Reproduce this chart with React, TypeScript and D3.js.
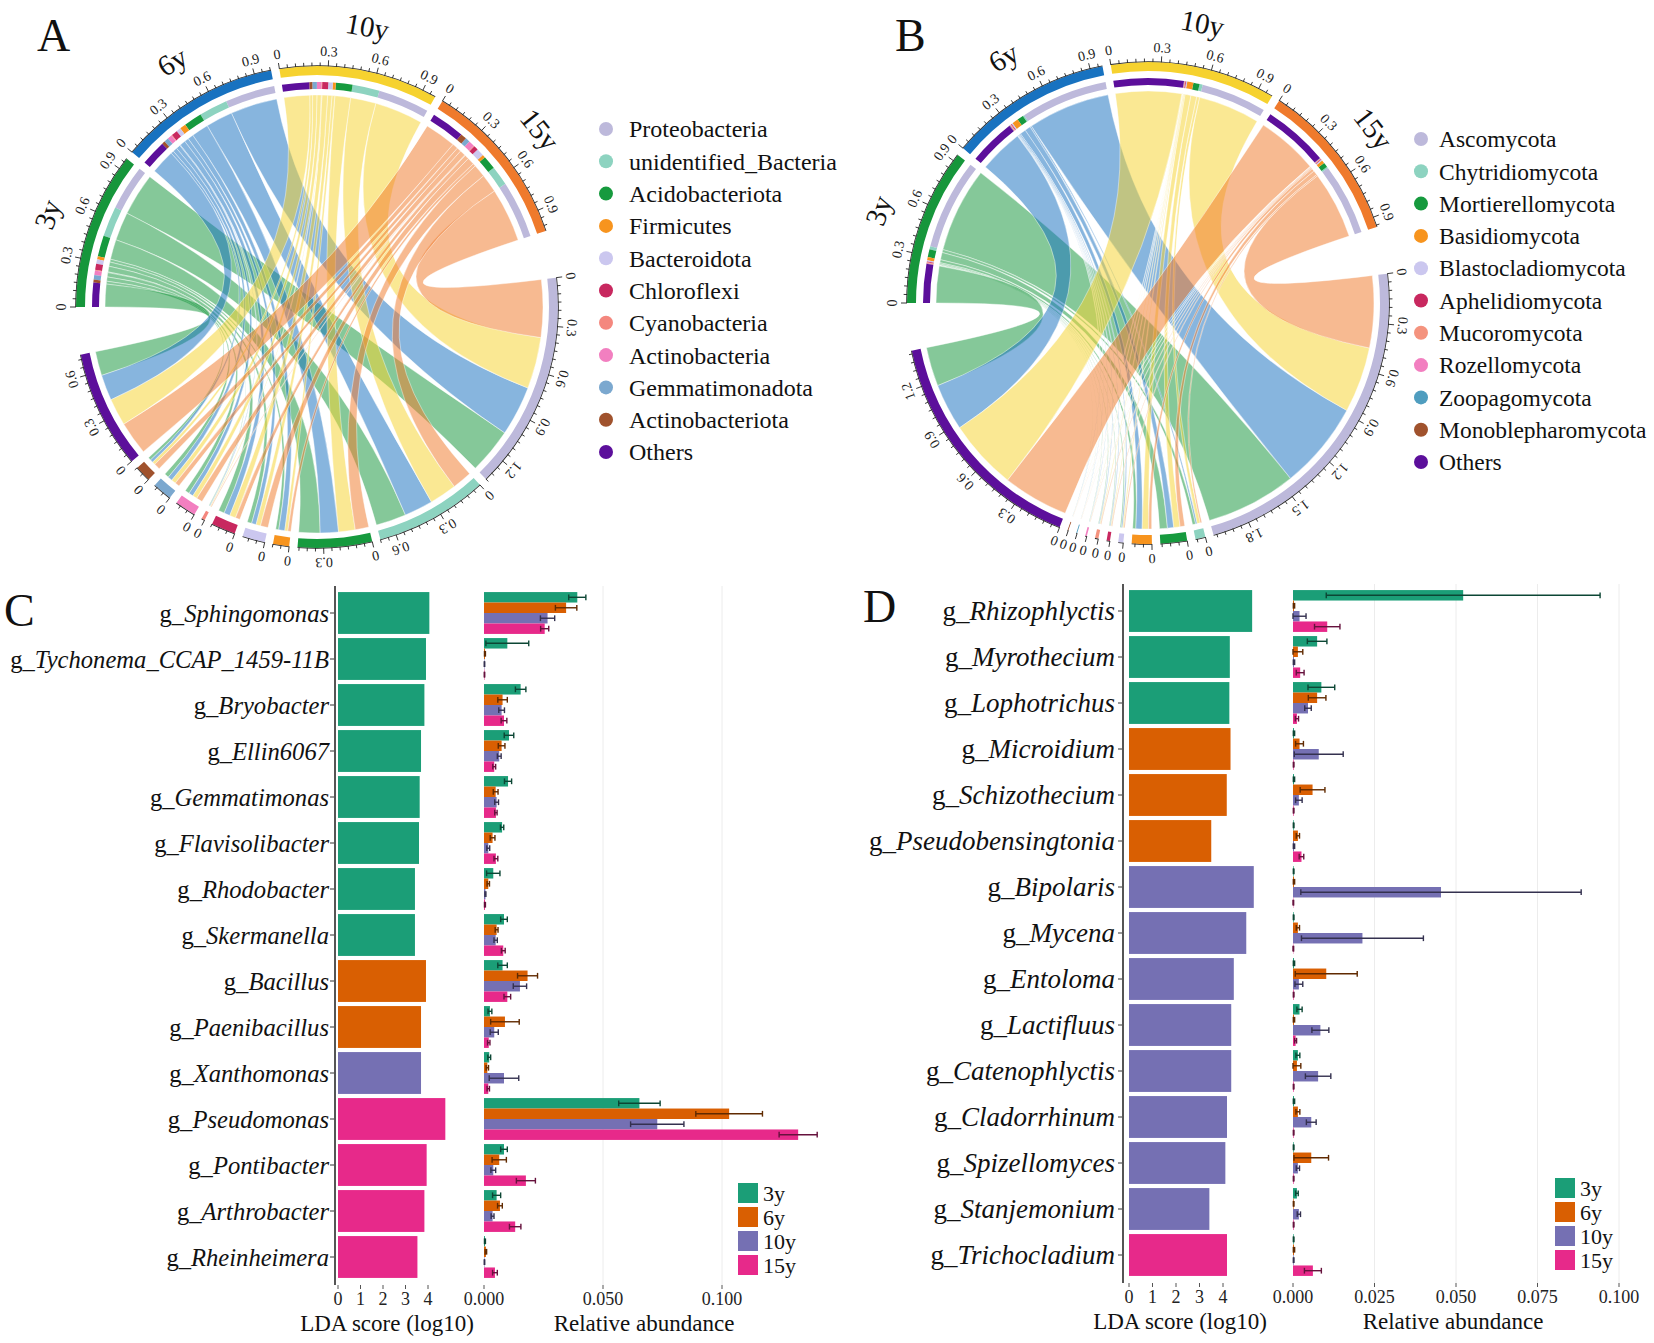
import React from 'react';
import * as d3 from 'd3';

const W = 1654;
const H = 1343;
const FONT = "'Liberation Serif', 'Times New Roman', 'DejaVu Serif', serif";

// ---- chord diagrams (A, B) ----
const samples = ['3y', '6y', '10y', '15y'];
const sampleColors = ['#16963b', '#1872c0', '#f6d22f', '#ef7a2c'];

const bacPhyla = ['Proteobacteria', 'unidentified_Bacteria', 'Acidobacteriota', 'Firmicutes', 'Bacteroidota', 'Chloroflexi', 'Cyanobacteria', 'Actinobacteria', 'Gemmatimonadota', 'Actinobacteriota', 'Others'];
const bacColors = ['#bdb9db', '#8dd3c0', '#169a3e', '#f7941e', '#cbc7ef', '#c8285f', '#f4877e', '#f27fc0', '#7ba8cf', '#a0522d', '#5c0f9b'];
// rows = samples (3y, 6y, 10y, 15y), columns = phyla
const bacLinks = [
  [0.30, 0.20, 0.14, 0.02, 0.03, 0.04, 0.005, 0.03, 0.03, 0.02, 0.16],
  [0.33, 0.19, 0.12, 0.04, 0.03, 0.04, 0.005, 0.03, 0.03, 0.02, 0.17],
  [0.34, 0.18, 0.11, 0.02, 0.03, 0.04, 0.005, 0.03, 0.03, 0.02, 0.18],
  [0.38, 0.13, 0.09, 0.02, 0.05, 0.03, 0.005, 0.04, 0.03, 0.04, 0.22],
];

const fungiPhyla = ['Ascomycota', 'Chytridiomycota', 'Mortierellomycota', 'Basidiomycota', 'Blastocladiomycota', 'Aphelidiomycota', 'Mucoromycota', 'Rozellomycota', 'Zoopagomycota', 'Monoblepharomycota', 'Others'];
const fungiColors = ['#bdb9db', '#8dd3c0', '#169a3e', '#f7941e', '#cbc7ef', '#c8285f', '#f4937e', '#f27fc0', '#4f9dbf', '#a0522d', '#5c0f9b'];
const fungiLinks = [
  [0.58, 0.02, 0.05, 0.02, 0.008, 0.005, 0.005, 0.003, 0.001, 0.001, 0.25],
  [0.56, 0.01, 0.04, 0.04, 0.008, 0.005, 0.005, 0.003, 0.002, 0.002, 0.30],
  [0.42, 0.02, 0.04, 0.04, 0.007, 0.005, 0.005, 0.002, 0.001, 0.001, 0.45],
  [0.46, 0.01, 0.03, 0.02, 0.007, 0.005, 0.005, 0.002, 0.001, 0.001, 0.42],
];

// ---- LEfSe panels (C, D) ----
const groupColors = ['#1b9e77', '#d95f02', '#7570b3', '#e7298a'];

const bacGenera = ['Sphingomonas', 'Tychonema_CCAP_1459-11B', 'Bryobacter', 'Ellin6067', 'Gemmatimonas', 'Flavisolibacter', 'Rhodobacter', 'Skermanella', 'Bacillus', 'Paenibacillus', 'Xanthomonas', 'Pseudomonas', 'Pontibacter', 'Arthrobacter', 'Rheinheimera'];
const bacLDA = [4.06, 3.91, 3.84, 3.69, 3.63, 3.6, 3.42, 3.42, 3.91, 3.69, 3.69, 4.77, 3.94, 3.84, 3.53];
const bacGroup = [0, 0, 0, 0, 0, 0, 0, 0, 1, 1, 2, 3, 3, 3, 3];
// mean relative abundance per genus: [3y, 6y, 10y, 15y]
const bacMean = [
  [0.0392, 0.0345, 0.0267, 0.0255],
  [0.0098, 0.0004, 0.0002, 0.0002],
  [0.0154, 0.0078, 0.0074, 0.0084],
  [0.0105, 0.0074, 0.0064, 0.0043],
  [0.0101, 0.0049, 0.0053, 0.005],
  [0.0076, 0.0036, 0.0018, 0.005],
  [0.0039, 0.0018, 0.0006, 0.0004],
  [0.0084, 0.0053, 0.0049, 0.0081],
  [0.0078, 0.0183, 0.0151, 0.0098],
  [0.0025, 0.0088, 0.0043, 0.002],
  [0.0022, 0.0014, 0.0084, 0.0018],
  [0.0653, 0.103, 0.0728, 0.132],
  [0.0084, 0.0064, 0.0039, 0.0176],
  [0.0053, 0.0067, 0.0036, 0.0131],
  [0.0004, 0.0008, 0.0002, 0.0046],
];
const bacSd = [
  [0.0036, 0.0045, 0.003, 0.0017],
  [0.009, 0.0002, 0.0001, 0.0001],
  [0.0022, 0.002, 0.0012, 0.0012],
  [0.002, 0.0014, 0.0008, 0.0006],
  [0.0015, 0.001, 0.0008, 0.0005],
  [0.0007, 0.001, 0.0006, 0.0008],
  [0.0028, 0.0005, 0.0002, 0.0002],
  [0.0014, 0.0006, 0.0007, 0.0008],
  [0.002, 0.0042, 0.0028, 0.0014],
  [0.0008, 0.006, 0.0017, 0.0005],
  [0.0006, 0.0005, 0.0062, 0.0005],
  [0.0087, 0.014, 0.0112, 0.008],
  [0.0014, 0.003, 0.001, 0.004],
  [0.0017, 0.001, 0.0006, 0.0024],
  [0.0002, 0.0003, 0.0001, 0.001],
];

const fungiGenera = ['Rhizophlyctis', 'Myrothecium', 'Lophotrichus', 'Microidium', 'Schizothecium', 'Pseudobensingtonia', 'Bipolaris', 'Mycena', 'Entoloma', 'Lactifluus', 'Catenophlyctis', 'Cladorrhinum', 'Spizellomyces', 'Stanjemonium', 'Trichocladium'];
const fungiLDA = [5.24, 4.29, 4.27, 4.32, 4.16, 3.5, 5.31, 4.99, 4.46, 4.35, 4.35, 4.17, 4.1, 3.42, 4.17];
const fungiGroup = [0, 0, 0, 1, 1, 1, 2, 2, 2, 2, 2, 2, 2, 2, 3];
const fungiMean = [
  [0.0522, 0.0003, 0.002, 0.0105],
  [0.0074, 0.0015, 0.0003, 0.0022],
  [0.0087, 0.0074, 0.0046, 0.0012],
  [0.0003, 0.002, 0.0079, 0.0002],
  [0.0003, 0.006, 0.0018, 0.0002],
  [0.0002, 0.0015, 0.0003, 0.0026],
  [0.0002, 0.0003, 0.0454, 0.0001],
  [0.0002, 0.0015, 0.0213, 0.0001],
  [0.0003, 0.0102, 0.0018, 0.0002],
  [0.002, 0.0003, 0.0084, 0.0008],
  [0.0015, 0.0012, 0.0077, 0.0002],
  [0.0003, 0.0015, 0.0056, 0.0002],
  [0.0002, 0.0056, 0.0015, 0.0002],
  [0.0012, 0.0002, 0.0018, 0.0002],
  [0.0002, 0.0003, 0.0002, 0.0061],
];
const fungiSd = [
  [0.042, 0.0002, 0.002, 0.0039],
  [0.003, 0.0015, 0.0002, 0.0012],
  [0.0041, 0.0027, 0.001, 0.0005],
  [0.0002, 0.0012, 0.0075, 0.0001],
  [0.0002, 0.0038, 0.001, 0.0001],
  [0.0001, 0.0005, 0.0002, 0.0007],
  [0.0001, 0.0002, 0.043, 0.0001],
  [0.0001, 0.0005, 0.0187, 0.0001],
  [0.0002, 0.0095, 0.0012, 0.0001],
  [0.0008, 0.0002, 0.0026, 0.0003],
  [0.0006, 0.0012, 0.0039, 0.0001],
  [0.0002, 0.0006, 0.0015, 0.0001],
  [0.0001, 0.0053, 0.0005, 0.0001],
  [0.0004, 0.0001, 0.0005, 0.0001],
  [0.0001, 0.0002, 0.0001, 0.0026],
];

const RAD = Math.PI / 180;
const R_OUT = 241;
const R_TRACK_IN = 232;
const R_COMP_OUT = 225;
const R_COMP_IN = 218;
const R_CHORD_S = 212;
const R_CHORD_P = 226;

type Sector = { start: number; end: number; value: number };

function ChordPanel({ cx, cy, phyla, colors, links, legendX, legendY, legendGap, legendFont }: any) {
  const nS = samples.length;
  const nP = phyla.length;
  const sTot: number[] = links.map((r: number[]) => d3.sum(r));
  const pTot: number[] = phyla.map((_: string, j: number) => d3.sum(links, (r: number[]) => r[j]));
  const total = d3.sum(sTot) + d3.sum(pTot);
  const gapS = 2 * RAD;
  const gapB = 11.4 * RAD;
  const span = 2 * Math.PI - 2 * gapB - (nS + nP - 2) * gapS;
  const ang = d3.scaleLinear().domain([0, total]).range([0, span]);

  let a = 1.5 * Math.PI;
  const sSec: Sector[] = sTot.map((v) => {
    const s = { start: a, end: a + ang(v), value: v };
    a = s.end + gapS;
    return s;
  });
  a = sSec[nS - 1].end + gapB;
  const pSec: Sector[] = pTot.map((v) => {
    const s = { start: a, end: a + ang(v), value: v };
    a = s.end + gapS;
    return s;
  });

  // link slots: sample side ordered Others..first phylum, phylum side ordered 15y..3y
  const src: number[][][] = links.map(() => new Array(nP));
  sSec.forEach((sec, s) => {
    let c = sec.start;
    for (let j = nP - 1; j >= 0; j--) {
      const w = ang(links[s][j]);
      src[s][j] = [c, c + w];
      c += w;
    }
  });
  const tgt: number[][][] = links.map(() => new Array(nP));
  pSec.forEach((sec, j) => {
    let c = sec.start;
    for (let s = nS - 1; s >= 0; s--) {
      const w = ang(links[s][j]);
      tgt[s][j] = [c, c + w];
      c += w;
    }
  });

  const ribbon = d3.ribbon() as any;
  const arc = d3.arc() as any;

  const chords: any[] = [];
  for (let s = 0; s < nS; s++) {
    for (let j = 0; j < nP; j++) {
      chords.push({
        key: `${s}-${j}`,
        color: sampleColors[s],
        path: ribbon({
          source: { startAngle: src[s][j][0], endAngle: src[s][j][1], radius: R_CHORD_S },
          target: { startAngle: tgt[s][j][0], endAngle: tgt[s][j][1], radius: R_CHORD_P },
        }),
      });
    }
  }

  const renderTicks = (sec: Sector, key: string) => {
    const nMaj = Math.floor(sec.value / 0.3 + 1e-6);
    const nMin = Math.floor(sec.value / 0.05 + 1e-6);
    const out: any[] = [];
    d3.range(nMin + 1).forEach((i) => {
      const t = i * 0.05;
      const isMaj = i % 6 === 0;
      const th = sec.start + ang(t);
      const r2 = R_OUT + (isMaj ? 6 : 3.5);
      out.push(
        <line key={`${key}-t${i}`} x1={R_OUT * Math.sin(th)} y1={-R_OUT * Math.cos(th)} x2={r2 * Math.sin(th)} y2={-r2 * Math.cos(th)} stroke="#222" strokeWidth={0.9} />
      );
    });
    d3.range(nMaj + 1).forEach((i) => {
      const t = i * 0.3;
      const th = sec.start + ang(t);
      out.push(
        <text key={`${key}-l${i}`} transform={`rotate(${th / RAD}) translate(0,${-251})`} textAnchor="middle" fontSize={14} fill="#222">
          {String(+t.toFixed(1))}
        </text>
      );
    });
    out.push(
      <path key={`${key}-base`} d={arc({ innerRadius: R_OUT, outerRadius: R_OUT + 0.8, startAngle: sec.start, endAngle: sec.end })} fill="#222" />
    );
    return out;
  };

  return (
    <g>
      <g transform={`translate(${cx},${cy})`}>
        {chords.map((c) => (
          <path key={c.key} d={c.path} fill={c.color} fillOpacity={0.52} stroke="#fff" strokeWidth={0.6} strokeOpacity={0.7} />
        ))}
        {sSec.map((sec, s) => (
          <g key={`s${s}`}>
            <path d={arc({ innerRadius: R_TRACK_IN, outerRadius: R_OUT, startAngle: sec.start, endAngle: sec.end })} fill={sampleColors[s]} />
            {d3.range(nP).map((j) => (
              <path key={j} d={arc({ innerRadius: R_COMP_IN, outerRadius: R_COMP_OUT, startAngle: src[s][j][0], endAngle: src[s][j][1] })} fill={colors[j]} />
            ))}
            {renderTicks(sec, `s${s}`)}
            <text transform={`rotate(${((sec.start + sec.end) / 2) / RAD}) translate(0,${-275})`} textAnchor="middle" fontSize={29} fill="#111">
              {samples[s]}
            </text>
          </g>
        ))}
        {pSec.map((sec, j) => (
          <g key={`p${j}`}>
            <path d={arc({ innerRadius: R_TRACK_IN, outerRadius: R_OUT, startAngle: sec.start, endAngle: sec.end })} fill={colors[j]} />
            {renderTicks(sec, `p${j}`)}
          </g>
        ))}
      </g>
      {phyla.map((p: string, j: number) => (
        <g key={p} transform={`translate(${legendX},${legendY + j * 32.3})`}>
          <circle r={7} fill={colors[j]} />
          <text x={legendGap} dy="0.35em" fontSize={legendFont} fill="#111">{p}</text>
        </g>
      ))}
    </g>
  );
}

function LefsePanel({ genera, lda, group, mean, sd, yRange, labelX, labelFont, axisX, ldaX, abX, abTicks, abFormat, legendX, legendY }: any) {
  const y = d3.scaleBand<string>().domain(genera).range(yRange).paddingInner(0.09).paddingOuter(0.045);
  const sub = d3.scaleBand<number>().domain(d3.range(4)).range([0, y.bandwidth()]);
  const top = yRange[0] - 4;
  const bottom = yRange[1] + 5;
  const capH = sub.bandwidth() * 0.55;
  return (
    <g>
      {abTicks.filter((t: number) => t > 0).map((t: number) => (
        <line key={`g${t}`} x1={abX(t)} x2={abX(t)} y1={top} y2={bottom} stroke="#ececec" strokeWidth={1} />
      ))}
      {genera.map((g: string, i: number) => (
        <rect key={`lda${g}`} x={ldaX(0)} y={y(g)} width={ldaX(lda[i]) - ldaX(0)} height={y.bandwidth()} fill={groupColors[group[i]]} />
      ))}
      <line x1={axisX} x2={axisX} y1={top} y2={bottom} stroke="#555" strokeWidth={2} />
      {genera.map((g: string) => {
        const cyy = (y(g) as number) + y.bandwidth() / 2;
        return (
          <g key={`lab${g}`}>
            <line x1={axisX - 5} x2={axisX} y1={cyy} y2={cyy} stroke="#555" strokeWidth={1.2} />
            <text x={labelX} y={cyy} dy="0.35em" textAnchor="end" fontSize={labelFont} fill="#111">
              g_<tspan fontStyle="italic">{g}</tspan>
            </text>
          </g>
        );
      })}
      {[0, 1, 2, 3, 4].map((t) => (
        <g key={`lt${t}`}>
          <line x1={ldaX(t)} x2={ldaX(t)} y1={bottom} y2={bottom + 4} stroke="#555" strokeWidth={1} />
          <text x={ldaX(t)} y={bottom + 20} textAnchor="middle" fontSize={18} fill="#222">{t}</text>
        </g>
      ))}
      <text x={(ldaX(0) + ldaX(4)) / 2 + 4} y={bottom + 46} textAnchor="middle" fontSize={23} fill="#111">LDA score (log10)</text>
      {genera.map((g: string, i: number) => (
        <g key={`ab${g}`} transform={`translate(0,${y(g)})`}>
          {d3.range(4).map((k) => {
            const m = mean[i][k];
            const e = sd[i][k];
            const yy = (sub(k) as number) + sub.bandwidth() / 2;
            const dark = d3.color(groupColors[k])!.darker(2.3).formatHex();
            const lo = abX(Math.max(0, m - e));
            const hi = abX(m + e);
            return (
              <g key={k}>
                <rect x={abX(0)} y={sub(k)} width={abX(m) - abX(0)} height={sub.bandwidth()} fill={groupColors[k]} />
                <line x1={lo} x2={hi} y1={yy} y2={yy} stroke={dark} strokeWidth={1.4} />
                <line x1={lo} x2={lo} y1={yy - capH / 2} y2={yy + capH / 2} stroke={dark} strokeWidth={1.4} />
                <line x1={hi} x2={hi} y1={yy - capH / 2} y2={yy + capH / 2} stroke={dark} strokeWidth={1.4} />
              </g>
            );
          })}
        </g>
      ))}
      {abTicks.map((t: number) => (
        <g key={`at${t}`}>
          <line x1={abX(t)} x2={abX(t)} y1={bottom} y2={bottom + 4} stroke="#555" strokeWidth={1} />
          <text x={abX(t)} y={bottom + 20} textAnchor="middle" fontSize={18} fill="#222">{abFormat(t)}</text>
        </g>
      ))}
      <text x={abX(abTicks[0]) + 160} y={bottom + 46} textAnchor="middle" fontSize={23} fill="#111">Relative abundance</text>
      {samples.map((s, k) => (
        <g key={`leg${s}`} transform={`translate(${legendX},${legendY + k * 24})`}>
          <rect x={0} y={-10} width={20} height={20} fill={groupColors[k]} />
          <text x={25} dy="0.35em" fontSize={22} fill="#111">{s}</text>
        </g>
      ))}
    </g>
  );
}

export default function App() {
  const fmt3 = d3.format('.3f');
  return (
    <svg width={W} height={H} viewBox={`0 0 ${W} ${H}`} fontFamily={FONT} style={{ position: 'absolute', left: 0, top: 0, background: '#fff', fontFamily: FONT }}>
      <rect width={W} height={H} fill="#fff" />
      <g fontFamily={FONT}>
        <text x={37} y={51} fontSize={46} fill="#111">A</text>
        <text x={895} y={51} fontSize={46} fill="#111">B</text>
        <text x={4} y={626} fontSize={46} fill="#111">C</text>
        <text x={863} y={622} fontSize={46} fill="#111">D</text>

        <ChordPanel cx={317} cy={307} phyla={bacPhyla} colors={bacColors} links={bacLinks} legendX={606} legendY={129} legendGap={23} legendFont={24} />
        <ChordPanel cx={1148} cy={303} phyla={fungiPhyla} colors={fungiColors} links={fungiLinks} legendX={1421} legendY={139} legendGap={18} legendFont={23.5} />

        <LefsePanel
          genera={bacGenera} lda={bacLDA} group={bacGroup} mean={bacMean} sd={bacSd}
          yRange={[590, 1280]} labelX={329} labelFont={24.6} axisX={335}
          ldaX={d3.scaleLinear().domain([0, 4]).range([338, 428])}
          abX={d3.scaleLinear().domain([0, 0.1]).range([484, 722])}
          abTicks={[0, 0.05, 0.1]} abFormat={fmt3}
          legendX={738} legendY={1193}
        />
        <LefsePanel
          genera={fungiGenera} lda={fungiLDA} group={fungiGroup} mean={fungiMean} sd={fungiSd}
          yRange={[588, 1278]} labelX={1115} labelFont={27} axisX={1123}
          ldaX={d3.scaleLinear().domain([0, 4]).range([1129, 1223])}
          abX={d3.scaleLinear().domain([0, 0.1]).range([1293, 1619])}
          abTicks={[0, 0.025, 0.05, 0.075, 0.1]} abFormat={fmt3}
          legendX={1555} legendY={1188}
        />
      </g>
    </svg>
  );
}
